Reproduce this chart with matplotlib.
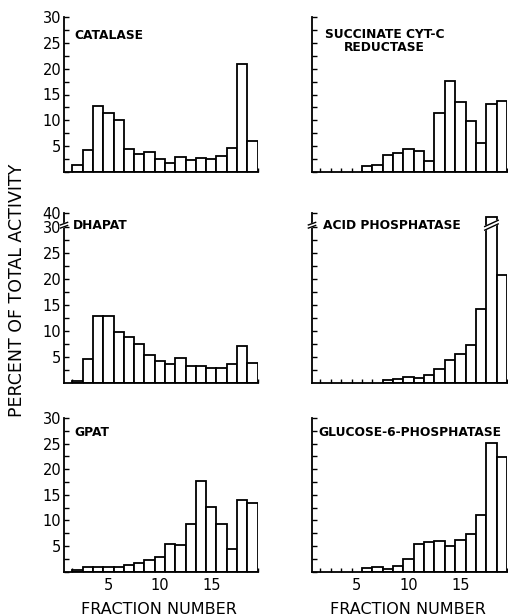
import numpy as np
import matplotlib
matplotlib.use("Agg")
import matplotlib.pyplot as plt
from matplotlib.ticker import MultipleLocator, FixedLocator

# ---- data (percent of total activity per fraction) ----
fractions = list(range(2, 20))
catalase = [1.3, 4.3, 12.7, 11.4, 10.1, 4.5, 3.5, 3.8, 2.5, 1.8,
            3.0, 2.3, 2.8, 2.5, 3.1, 4.7, 21.0, 6.0]
dhapat = [0.3, 4.7, 12.8, 12.8, 9.9, 8.9, 7.5, 5.4, 4.2, 3.6,
          4.9, 3.3, 3.3, 2.9, 2.9, 3.7, 7.1, 3.9]
gpat = [0.3, 0.8, 0.8, 0.8, 0.85, 1.2, 1.6, 2.2, 2.8, 5.3,
        5.2, 9.2, 17.6, 12.6, 9.2, 4.4, 13.9, 13.4]

succ_fractions = list(range(6, 20))
succinate = [1.1, 1.4, 3.2, 3.6, 4.4, 4.0, 2.2, 11.5, 17.7, 13.5,
             9.9, 5.7, 13.2, 13.8]

acid_fractions = list(range(8, 20))
# fraction 18 is off scale (broken bar)
acid = [0.6, 0.8, 1.2, 1.0, 1.6, 2.7, 4.5, 5.6, 7.4, 14.2, 32.0, 20.8]

g6p_fractions = list(range(6, 20))
g6p = [0.65, 0.85, 0.45, 1.0, 2.35, 5.4, 5.7, 6.0, 5.0, 6.1,
       7.4, 11.0, 25.1, 22.4]

x_ticklabels = [5, 10, 15]

W, H = 508, 615
fig = plt.figure(figsize=(W / 100, H / 100), dpi=100)
fig.patch.set_facecolor("white")

XLIM = (0.68, 19.5)
LW = 1.3


def px(x0, y_top, x1, y_bot):
    return [x0 / W, 1 - y_bot / H, (x1 - x0) / W, (y_bot - y_top) / H]


def setup(ax, ytop, left_labels, bottom_labels, broken=False):
    ax.set_xlim(*XLIM)
    ax.set_ylim(0, ytop)
    for s in ("top", "right"):
        ax.spines[s].set_visible(False)
    for s in ("left", "bottom"):
        ax.spines[s].set_linewidth(LW)
    ax.xaxis.set_major_locator(FixedLocator(x_ticklabels))
    ax.xaxis.set_minor_locator(FixedLocator(np.arange(1.5, 20, 1.0)))
    ax.tick_params(axis="x", which="major", length=0, labelsize=10.5, pad=5,
                   labelbottom=bottom_labels)
    ax.tick_params(axis="x", which="minor", direction="in", length=3, width=1)
    if broken:
        yt = [5, 10, 15, 20, 25, 30, ytop]
        ylab = ["5", "10", "15", "20", "25", "30", "40"]
        ax.yaxis.set_minor_locator(FixedLocator(np.arange(2.5, 30.1, 2.5)))
    else:
        yt = [5, 10, 15, 20, 25, 30]
        ylab = [str(v) for v in yt]
        ax.yaxis.set_minor_locator(MultipleLocator(2.5))
    ax.set_yticks(yt)
    ax.set_yticklabels(ylab if left_labels else [])
    ax.tick_params(axis="y", which="both", direction="in", length=3.5,
                   width=1, labelsize=10.5, pad=2, labelleft=left_labels)


def axis_break(ax, y):
    x0 = XLIM[0]
    dx, dy = 0.35, 0.5
    ax.fill([x0 - dx, x0 + dx, x0 + dx, x0 - dx],
            [y - dy, y, y + 0.6, y - dy + 0.6],
            color="white", zorder=5, clip_on=False)
    for off in (0, 0.6):
        ax.plot([x0 - dx, x0 + dx], [y - dy + off, y + off], color="black",
                lw=1.0, zorder=6, clip_on=False)


def bar_break(ax, xc, y):
    dx, dy = 0.65, 0.6
    ax.fill([xc - dx, xc + dx, xc + dx, xc - dx],
            [y - dy, y + dy, y + dy + 0.7, y - dy + 0.7],
            color="white", zorder=5, clip_on=False)
    for off in (0, 0.7):
        ax.plot([xc - dx, xc + dx], [y - dy + off, y + dy + off],
                color="black", lw=1.0, zorder=6, clip_on=False)


def bars(ax, xs, ys):
    ax.bar(xs, ys, width=1.0, color="white", edgecolor="black", linewidth=LW,
           zorder=2)


title_kw = dict(fontsize=8.8, fontweight="bold", family="DejaVu Sans")

# top row
ax1 = fig.add_axes(px(64, 17, 257.5, 172))
bars(ax1, fractions, catalase)
setup(ax1, 30, True, False)
ax1.text(1.65, 26.5, "CATALASE", ha="left", va="center", **title_kw)

ax2 = fig.add_axes(px(312, 17, 507, 172))
bars(ax2, succ_fractions, succinate)
setup(ax2, 30, False, False)
ax2.text(7.7, 25.4, "SUCCINATE CYT-C\nREDUCTASE", ha="center", va="center",
         multialignment="center", linespacing=1.0, **title_kw)

# middle row (broken axis above 30)
ax3 = fig.add_axes(px(64, 213, 257.5, 383))
bars(ax3, fractions, dhapat)
setup(ax3, 32.7, True, False, broken=True)
axis_break(ax3, 30.3)
ax3.text(1.55, 30.2, "DHAPAT", ha="left", va="center", **title_kw)

ax4 = fig.add_axes(px(312, 213, 507, 383))
bars(ax4, acid_fractions, acid)
setup(ax4, 32.7, False, False, broken=True)
axis_break(ax4, 30.3)
bar_break(ax4, 18, 30.0)
ax4.text(1.75, 30.2, "ACID PHOSPHATASE", ha="left", va="center", **title_kw)

# bottom row
ax5 = fig.add_axes(px(64, 418, 257.5, 571.5))
bars(ax5, fractions, gpat)
setup(ax5, 30, True, True)
ax5.text(1.65, 27.1, "GPAT", ha="left", va="center", **title_kw)

ax6 = fig.add_axes(px(312, 418, 507, 571.5))
bars(ax6, g6p_fractions, g6p)
setup(ax6, 30, False, True)
ax6.text(1.25, 27.1, "GLUCOSE-6-PHOSPHATASE", ha="left", va="center",
         **title_kw)

fig.text(159 / W, 1 - 609 / H, "FRACTION NUMBER", ha="center", va="center",
         fontsize=11.5)
fig.text(408 / W, 1 - 609 / H, "FRACTION NUMBER", ha="center", va="center",
         fontsize=11.5)
fig.text(17 / W, 1 - 290 / H, "PERCENT OF TOTAL ACTIVITY", ha="center",
         va="center", rotation=90, fontsize=12.5)

fig.savefig("out.png", dpi=100, facecolor="white")
